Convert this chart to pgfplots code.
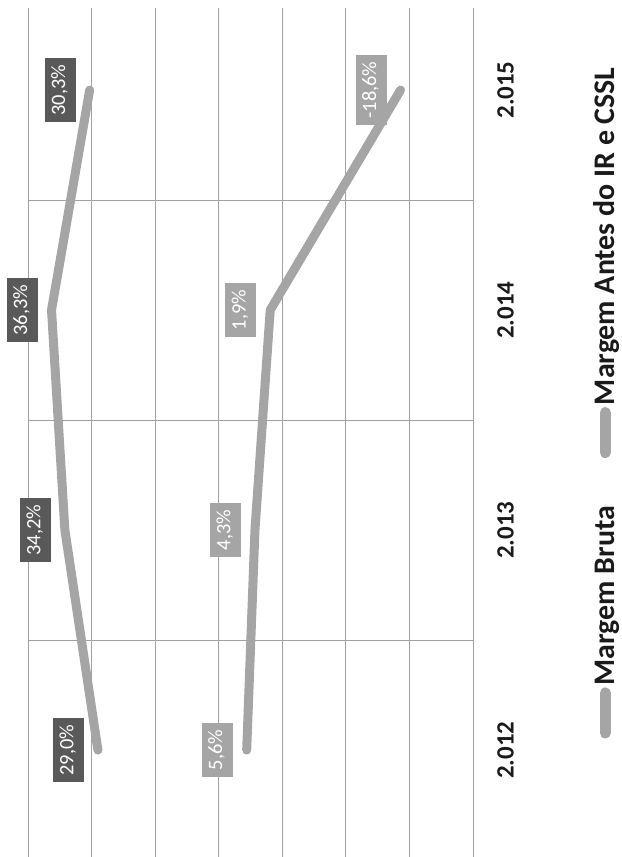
\documentclass[border=0pt]{standalone}
\usepackage{pgfplots}
\pgfplotsset{compat=1.18}
\usepackage{fontspec}
\setmainfont{Carlito}
\usepackage{graphicx}
\definecolor{linegray}{HTML}{A5A5A5}
\definecolor{darkbox}{HTML}{595959}
\definecolor{gridgray}{HTML}{A0A0A0}
\definecolor{txt}{HTML}{1A1A1A}
\begin{document}
\rotatebox{90}{%
\begin{tikzpicture}
\useasboundingbox (0,-149bp) rectangle (857bp,473bp);
\begin{axis}[
  at={(0,0)}, anchor=south west,
  width=849bp, height=445bp, scale only axis,
  xmin=-0.486, xmax=3.373,
  ymin=-30, ymax=40,
  axis line style={draw=none},
  ytick={-30,-20,...,40},
  yticklabels={},
  ymajorgrids,
  major grid style={gridgray, line width=0.8bp},
  xtick={0,1,2,3},
  xticklabels={2.012,2.013,2.014,2.015},
  extra x ticks={0.5,1.5,2.5},
  extra x tick labels={},
  extra x tick style={grid=major, major tick length=0pt},
  major tick length=0pt,
  xticklabel style={font=\fontsize{25}{25}\selectfont\bfseries, text=txt, anchor=north, inner sep=0pt, yshift=-24bp},
  clip=false,
  legend columns=2,
  legend style={at={(0.536,-0.297)}, anchor=center, draw=none, fill=none,
    font=\fontsize{30}{30}\selectfont\bfseries, text=txt,
    nodes={inner sep=2bp},
    /tikz/every even column/.append style={column sep=46bp}},
  legend image code/.code={\draw[#1, line cap=round, line width=11bp] (0bp,0bp) -- (40bp,0bp);},
  point meta=explicit symbolic,
  nodes near coords,
  nodes near coords align={center},
  every node near coord/.append style={font=\fontsize{20.5}{20.5}\selectfont, text=white,
    inner xsep=6.5bp, inner ysep=7.5bp, text height=13bp, text depth=3bp, yshift=29.5bp},
]
\addplot[linegray, line width=9bp, line cap=round, line join=round,
  every node near coord/.append style={fill=darkbox}]
  coordinates {(0,29.0) [29,0\%] (1,34.2) [34,2\%] (2,36.3) [36,3\%] (3,30.3) [30,3\%]};
\addlegendentry{Margem Bruta}
\addplot[linegray, line width=9bp, line cap=round, line join=round,
  every node near coord/.append style={fill=linegray}]
  coordinates {(0,5.6) [5,6\%] (1,4.3) [4,3\%] (2,1.9) [1,9\%] (3,-18.6) [-18,6\%]};
\addlegendentry{Margem Antes do IR e CSSL}
\end{axis}
\end{tikzpicture}}
\end{document}
